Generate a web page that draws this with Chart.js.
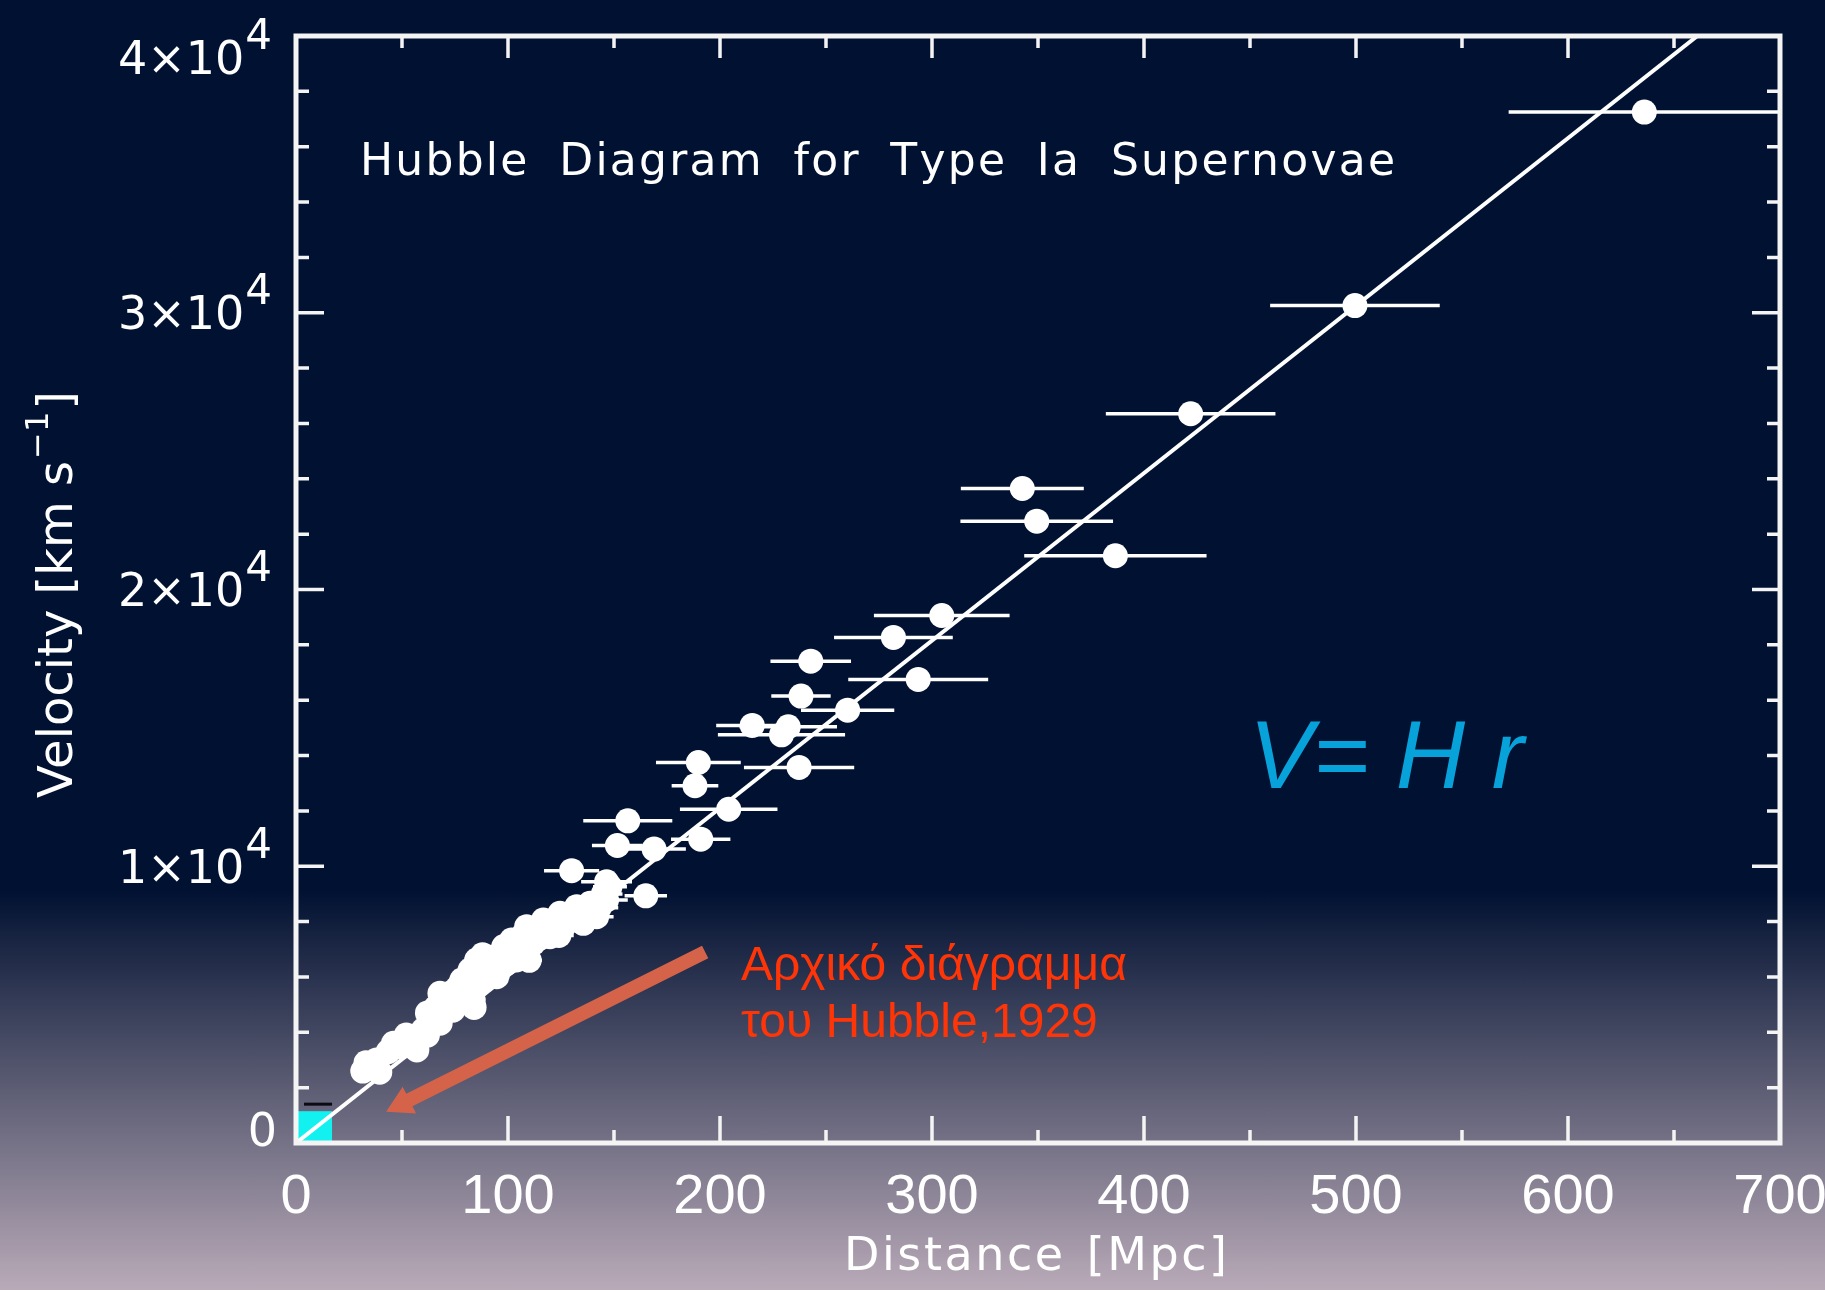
<!DOCTYPE html>
<html><head><meta charset="utf-8">
<script src="https://cdn.jsdelivr.net/npm/chart.js@4.4.1/dist/chart.umd.min.js"></script>
<style>
html,body{margin:0;padding:0;width:1825px;height:1290px;overflow:hidden;
background:linear-gradient(to bottom,#011131 0%,#011131 69%,#b9aab8 100%);}
canvas{display:block}
</style></head><body>
<canvas id="c" width="1825" height="1290"></canvas>
<script>
// ---- data (distance in Mpc, velocity in km/s, horizontal error in Mpc) ----
const distances = [636,499.5,422,342.6,349.4,386.5,304.6,281.8,293.5,242.8,238.2,260.2,215.2,232.2,229,189.8,237.3,188.2,204.1,156.5,151.6,168.9,190.9,130,165,146.5,
  148.1,146.5,141.8,138.7,135.5,132.4,126.1,124.5,119.8,116.7,111.9,108.8,105.7,104,101.7,99.4,94.7,90,85.2,83.6,82.1,78.2,72.6,68,67.9,69.5,64,60,57,55.3,49.8,43.5,39.5,35.7,31.5,
  33,38,46,52,62,66,74,76,80,86,88,92,96,98,103,107,113,115,121,128,130,137,143,145,74,62,84,110,124];
const velocities = [37250,30260,26350,23650,22470,21220,19060,18270,16750,17410,16150,15640,15090,15040,14750,13750,13570,12910,12060,11640,10750,10620,10980,9840,8930,9440,
  9262,8781,8178,8660,7938,8540,7817,8299,7455,8058,7215,7817,6974,6613,7335,6492,6010,6251,6613,5167,6251,5890,5408,4330,5408,5047,4444,4083,3360,3722,3480,3300,2560,2818,2600,
  2900,3000,3600,3900,4700,4900,5000,5600,5500,5700,6800,6700,6400,7100,7000,7500,7700,7400,7900,8100,8300,8300,8500,9000,4800,3900,4900,6600,7500];
const distErrors = [64,40,40,29,36,43,32,28,33,19,14,22,17,23,30,20,26,11,23,21,12,15,14,13,10,12,
  8,10,8,7,9,6,8,6,7,6,7,5,6,6,5,6,6,5,5,5,5,5,4,4,4,4,4,4,4,4,4,3,3,3,3,
  3,3,3,4,4,4,4,5,5,5,5,5,6,6,6,6,7,7,7,8,8,8,9,9,4,4,5,6,7];
const fitDistance = [0, 661];
const fitVelocity = [0, 40000];
const hubbleBoxDistance = [0, 17];
const hubbleBoxVelocity = [0, 1150];
const xTickValues = [0,100,200,300,400,500,600,700];
const xTickLabels = ['0','100','200','300','400','500','600','700'];
const yTickValues = [0,10000,20000,30000,40000];
const yTickLabels = [['0',''],['1×10','4'],['2×10','4'],['3×10','4'],['4×10','4']];
const arrowFrom = [193, 6900];
const arrowTo = [42.5, 1130];
const titleText = 'Hubble Diagram for Type Ia Supernovae';
const xTitle = 'Distance [Mpc]';
const yTitle = ['Velocity [km s', '\u22121', ']'];
const noteLines = ['Αρχικό διάγραμμα', 'του Hubble,1929'];
const lawText = 'V= H r';

function spacedText(ctx, txt, x, y, targetW, wordShare){
  let w0 = 0; for (const ch of txt) w0 += ctx.measureText(ch).width;
  const nSp = (txt.match(/ /g) || []).length;
  const extra = targetW - w0;
  const letterSp = extra * (1 - wordShare) / (txt.length - 1);
  const wordSp = extra * wordShare / Math.max(nSp, 1);
  for (const ch of txt){
    ctx.fillText(ch, x, y);
    x += ctx.measureText(ch).width + letterSp + (ch === ' ' ? wordSp : 0);
  }
}

const deco = {
  id: 'deco',
  beforeDatasetsDraw(chart){
    const {ctx, chartArea:a, scales:{x, y}} = chart;
    ctx.save();
    ctx.beginPath(); ctx.rect(a.left, a.top, a.width, a.height); ctx.clip();
    // Hubble 1929 box
    const bx0 = x.getPixelForValue(hubbleBoxDistance[0]), bx1 = x.getPixelForValue(hubbleBoxDistance[1]);
    const by0 = y.getPixelForValue(hubbleBoxVelocity[0]), by1 = y.getPixelForValue(hubbleBoxVelocity[1]);
    ctx.fillStyle = '#12f0f0';
    ctx.fillRect(bx0, by1, bx1 - bx0, by0 - by1);
    ctx.strokeStyle = '#0b0b14'; ctx.lineWidth = 3;
    ctx.beginPath(); ctx.moveTo(bx0 + 8, by1 - 7); ctx.lineTo(bx1, by1 - 7); ctx.stroke();
    // error bars
    ctx.strokeStyle = '#ffffff'; ctx.lineWidth = 3.5;
    ctx.beginPath();
    for (let i = 0; i < distances.length; i++){
      const py = y.getPixelForValue(velocities[i]);
      ctx.moveTo(x.getPixelForValue(distances[i] - distErrors[i]), py);
      ctx.lineTo(x.getPixelForValue(distances[i] + distErrors[i]), py);
    }
    ctx.stroke();
    ctx.restore();
  },
  afterDraw(chart){
    const {ctx, chartArea:a, scales:{x, y}} = chart;
    ctx.save();
    ctx.strokeStyle = '#f4f4f4';
    // ticks
    ctx.lineWidth = 3.5;
    ctx.beginPath();
    for (let v = 0; v <= 700; v += 50){
      const px = x.getPixelForValue(v), L = (v % 100 === 0) ? 27 : 13;
      ctx.moveTo(px, a.bottom); ctx.lineTo(px, a.bottom - L);
      ctx.moveTo(px, a.top); ctx.lineTo(px, a.top + (v % 100 === 0 ? 22 : 12));
    }
    for (let v = 0; v <= 40000; v += 2000){
      const py = y.getPixelForValue(v), L = (v % 10000 === 0) ? 28 : 13;
      ctx.moveTo(a.left, py); ctx.lineTo(a.left + L, py);
      ctx.moveTo(a.right, py); ctx.lineTo(a.right - L, py);
    }
    ctx.stroke();
    // frame
    ctx.lineWidth = 5;
    ctx.strokeRect(a.left, a.top, a.width, a.height);

    ctx.fillStyle = '#ffffff';
    // x tick labels
    ctx.font = '56px "Liberation Sans", Arial, sans-serif';
    ctx.textAlign = 'center'; ctx.textBaseline = 'alphabetic';
    xTickValues.forEach((v, i) => ctx.fillText(xTickLabels[i], x.getPixelForValue(v), 1213));
    // y tick labels
    ctx.textAlign = 'left';
    yTickValues.forEach((v, i) => {
      const [main, sup] = yTickLabels[i];
      let cy = Math.min(Math.max(y.getPixelForValue(v), 57), 1129);
      const base = cy + 16.5;
      ctx.font = '42px "DejaVu Sans", sans-serif';
      const sw = sup ? ctx.measureText(sup).width : 0;
      ctx.font = '46px "DejaVu Sans", sans-serif';
      const mw = ctx.measureText(main).width;
      const right = sup ? 272 : 277;
      ctx.fillText(main, right - sw - mw - (sup ? 1 : 0), base);
      if (sup){ ctx.font = '42px "DejaVu Sans", sans-serif'; ctx.fillText(sup, right - sw, base - 25); }
    });
    // plot title
    ctx.font = '44px "DejaVu Sans", sans-serif';
    spacedText(ctx, titleText, 360, 175, 1035, 0.45);
    // x axis title
    ctx.font = '46px "DejaVu Sans", sans-serif';
    spacedText(ctx, xTitle, 844, 1270, 383, 0.1);
    // y axis title (rotated)
    ctx.save();
    ctx.translate(72, 798); ctx.rotate(-Math.PI / 2);
    ctx.font = '48px "DejaVu Sans", sans-serif';
    const w1 = ctx.measureText(yTitle[0]).width;
    ctx.fillText(yTitle[0], 0, 0);
    ctx.font = '32px "DejaVu Sans", sans-serif';
    const w2 = ctx.measureText(yTitle[1]).width;
    ctx.fillText(yTitle[1], w1 + 2, -24);
    ctx.font = '48px "DejaVu Sans", sans-serif';
    ctx.fillText(yTitle[2], w1 + w2 + 4, 0);
    ctx.restore();

    // arrow
    const ax0 = x.getPixelForValue(arrowFrom[0]), ay0 = y.getPixelForValue(arrowFrom[1]);
    const ax1 = x.getPixelForValue(arrowTo[0]), ay1 = y.getPixelForValue(arrowTo[1]);
    const ang = Math.atan2(ay1 - ay0, ax1 - ax0);
    const headL = 26, headW = 15, shaftW = 7;
    const bxp = ax1 - headL * Math.cos(ang), byp = ay1 - headL * Math.sin(ang);
    const nx = -Math.sin(ang), ny = Math.cos(ang);
    ctx.fillStyle = '#d4634a';
    ctx.beginPath();
    ctx.moveTo(ax0 + nx * shaftW, ay0 + ny * shaftW);
    ctx.lineTo(bxp + nx * shaftW, byp + ny * shaftW);
    ctx.lineTo(bxp + nx * headW, byp + ny * headW);
    ctx.lineTo(ax1, ay1);
    ctx.lineTo(bxp - nx * headW, byp - ny * headW);
    ctx.lineTo(bxp - nx * shaftW, byp - ny * shaftW);
    ctx.lineTo(ax0 - nx * shaftW, ay0 - ny * shaftW);
    ctx.closePath(); ctx.fill();

    // Greek annotation
    ctx.fillStyle = '#ff3508';
    ctx.font = '48px "Liberation Sans", Arial, sans-serif';
    ctx.fillText(noteLines[0], 741, 980);
    ctx.fillText(noteLines[1], 741, 1037);
    // Hubble law
    ctx.fillStyle = '#08a2da';
    ctx.font = 'italic 96px "Liberation Sans", Arial, sans-serif';
    ctx.fillText(lawText, 1249, 788);
    ctx.restore();
  }
};

new Chart(document.getElementById('c'), {
  data: {
    datasets: [
      { type: 'scatter', data: distances.map((d, i) => ({x: d, y: velocities[i]})),
        pointRadius: 12.5, pointHoverRadius: 12.5, backgroundColor: '#ffffff', borderWidth: 0 },
      { type: 'line', data: fitDistance.map((d, i) => ({x: d, y: fitVelocity[i]})),
        borderColor: '#ffffff', borderWidth: 4, pointRadius: 0, fill: false }
    ]
  },
  options: {
    responsive: false, animation: false, devicePixelRatio: 1,
    layout: { padding: { left: 296, top: 36, right: 45, bottom: 147 } },
    plugins: { legend: { display: false }, tooltip: { enabled: false } },
    scales: {
      x: { type: 'linear', min: 0, max: 700, display: false },
      y: { type: 'linear', min: 0, max: 40000, display: false }
    }
  },
  plugins: [deco]
});
</script>
</body></html>
